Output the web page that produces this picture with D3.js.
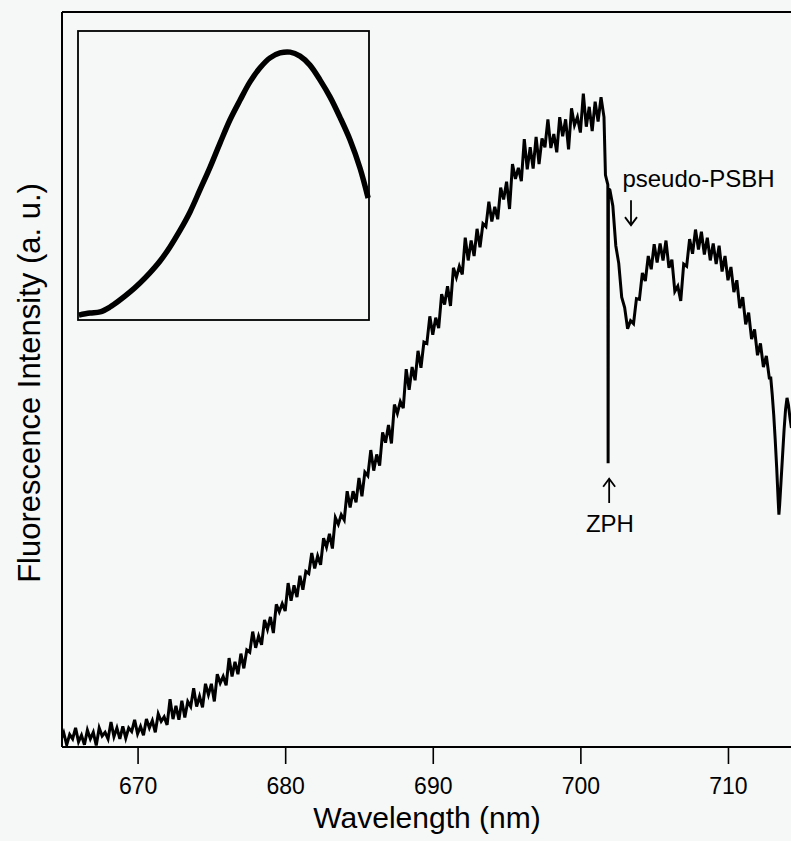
<!DOCTYPE html>
<html>
<head>
<meta charset="utf-8">
<script src="https://cdn.jsdelivr.net/npm/d3@7"></script>
<style>
  html, body { margin: 0; padding: 0; background: #f6f7f7; }
  svg { display: block; font-family: "Liberation Sans", Arial, Helvetica, sans-serif; }
</style>
</head>
<body>
<svg id="chart" width="791" height="841"></svg>
<script>
// ---------- DATA ----------
const xTicks = [670, 680, 690, 700, 710];
const xTickLabels = ["670", "680", "690", "700", "710"];
const xTitle = "Wavelength (nm)";
const yTitle = "Fluorescence Intensity (a. u.)";

const wavelength = [
  664.9,
  665.0,665.2,665.4,665.6,665.8,666.0,666.2,666.4,666.6,666.8,
  667.0,667.2,667.4,667.6,667.8,668.0,668.2,668.4,668.6,668.8,
  669.0,669.2,669.4,669.6,669.8,670.0,670.2,670.4,670.6,670.8,
  671.0,671.2,671.4,671.6,671.8,672.0,672.2,672.4,672.6,672.8,
  673.0,673.2,673.4,673.6,673.8,674.0,674.2,674.4,674.6,674.8,
  675.0,675.2,675.4,675.6,675.8,676.0,676.2,676.4,676.6,676.8,
  677.0,677.2,677.4,677.6,677.8,678.0,678.2,678.4,678.6,678.8,
  679.0,679.2,679.4,679.6,679.8,680.0,680.2,680.4,680.6,680.8,
  681.0,681.2,681.4,681.6,681.8,682.0,682.2,682.4,682.6,682.8,
  683.0,683.2,683.4,683.6,683.8,684.0,684.2,684.4,684.6,684.8,
  685.0,685.2,685.4,685.6,685.8,686.0,686.2,686.4,686.6,686.8,
  687.0,687.2,687.4,687.6,687.8,688.0,688.2,688.4,688.6,688.8,
  689.0,689.2,689.4,689.6,689.8,690.0,690.2,690.4,690.6,690.8,
  691.0,691.2,691.4,691.6,691.8,692.0,692.2,692.4,692.6,692.8,
  693.0,693.2,693.4,693.6,693.8,694.0,694.2,694.4,694.6,694.8,
  695.0,695.2,695.4,695.6,695.8,696.0,696.2,696.4,696.6,696.8,
  697.0,697.2,697.4,697.6,697.8,698.0,698.2,698.4,698.6,698.8,
  699.0,699.2,699.4,699.6,699.8,700.0,700.2,700.4,700.6,700.8,
  701.0,701.2,701.4,701.6,
  701.7,701.8,701.86,701.88,701.9,
  702.0,702.2,702.4,702.6,702.8,703.0,703.2,703.4,703.6,703.8,
  704.0,704.2,704.4,704.6,704.8,705.0,705.2,705.4,705.6,705.8,
  706.0,706.2,706.4,706.6,706.8,707.0,707.2,707.4,707.6,707.8,
  708.0,708.2,708.4,708.6,708.8,709.0,709.2,709.4,709.6,709.8,
  710.0,710.2,710.4,710.6,710.8,711.0,711.2,711.4,711.6,711.8,
  712.0,712.2,712.4,712.6,712.8,712.9,713.0,713.1,713.2,713.3,
  713.4,713.45,713.5,713.6,713.7,713.8,713.9,714.0,714.1,714.2,714.3
];
const intensity = [
  1.3,
  1.9,0.3,1.7,1.1,2.6,0.7,1.6,0.3,2.3,1.1,
  2.0,0.2,2.6,1.5,2.0,1.1,3.4,1.4,2.6,1.1,
  2.8,1.2,2.6,2.1,3.7,1.8,2.8,1.6,3.8,2.6,
  3.6,2.0,4.5,3.5,4.1,3.0,6.5,3.8,5.6,3.7,
  6.3,4.0,6.2,5.5,8.0,5.5,6.9,5.4,8.6,7.1,
  8.6,6.2,9.9,8.7,9.6,8.4,12.1,9.6,11.6,9.9,
  12.7,10.7,13.2,12.9,15.7,13.5,15.1,13.9,17.3,16.0,
  17.7,15.5,19.4,18.4,19.5,18.5,22.3,19.9,22.0,20.4,
  23.3,21.4,23.9,23.6,26.4,24.3,26.0,24.8,28.4,27.2,
  29.0,27.0,31.2,30.3,31.6,30.9,34.8,32.6,34.8,33.3,
  36.6,34.1,37.4,36.9,40.4,37.6,39.8,38.3,42.8,41.4,
  43.8,41.3,46.6,45.4,47.0,46.1,51.4,48.6,51.7,49.9,
  53.9,51.6,55.1,54.9,58.6,56.1,58.4,57.0,61.6,60.2,
  62.7,60.0,65.2,63.9,65.4,64.3,69.3,66.2,68.9,66.8,
  70.5,68.0,71.2,70.8,74.2,71.5,73.5,71.8,76.1,74.5,
  76.9,73.2,79.3,77.3,78.8,77.0,82.7,78.6,81.6,78.7,
  83.0,79.3,82.8,81.6,85.4,81.5,83.4,80.9,85.7,83.1,
  85.4,81.3,86.9,84.6,85.7,83.6,88.9,84.4,87.1,83.8,
  87.8,85.1,88.4,85.7,
  77.8,77.0,76.5,38.6,76.0,
  75.8,73.6,68.2,65.8,61.2,59.8,56.9,58.0,57.6,61.0,
  60.9,64.5,63.4,66.8,65.0,68.4,65.9,68.5,66.2,68.9,
  65.2,66.3,62.0,62.7,60.7,65.7,65.4,69.1,67.1,70.4,
  67.7,70.1,67.0,69.3,66.2,68.5,65.7,68.2,64.7,66.8,
  63.5,65.3,61.9,63.5,59.7,61.2,57.5,59.1,55.5,56.8,
  53.3,54.9,51.7,53.2,50.2,50.2,47.9,45.2,41.8,38.0,
  33.6,31.6,32.9,36.3,39.7,43.1,45.9,47.5,46.5,44.8,43.4
];

// inset spectrum (no axes, arbitrary units)
const insetX = [0.3,4.1,7.6,11.0,14.4,17.9,21.3,24.7,28.2,31.6,35.1,38.5,41.9,45.4,48.8,
  52.2,55.7,59.1,62.5,66.0,69.4,72.9,76.3,79.7,83.2,86.6,90.0,93.5,96.9,99.7];
const insetY = [1.7,2.4,2.8,4.5,6.9,9.7,12.8,16.3,20.4,25.3,31.1,37.4,45.0,52.9,61.2,
  69.2,76.1,82.4,87.2,90.7,92.4,92.7,91.3,88.2,83.0,77.2,70.2,62.3,52.6,42.2];

const annotationLabels = ["pseudo-PSBH", "ZPH"];

// ---------- LAYOUT ----------
const W = 791, H = 841;
const plot = { left: 62, top: 12, right: 791, bottom: 747 };
const insetBox = { left: 78, top: 31, right: 369, bottom: 320 };

const svg = d3.select("#chart");
svg.append("rect").attr("width", W).attr("height", H).attr("fill", "#f6f7f7");

const x = d3.scaleLinear().domain([664.88, 714.27]).range([plot.left, plot.right]);
const y = d3.scaleLinear().domain([0, 100]).range([plot.bottom, plot.top]);

svg.append("defs").append("clipPath").attr("id", "clip")
  .append("rect").attr("x", plot.left).attr("y", plot.top)
  .attr("width", plot.right - plot.left).attr("height", plot.bottom - plot.top);

// main spectrum
const mainData = wavelength.map((w, i) => [w, intensity[i]]);
svg.append("path")
  .datum(mainData)
  .attr("clip-path", "url(#clip)")
  .attr("fill", "none")
  .attr("stroke", "#000")
  .attr("stroke-width", 3)
  .attr("stroke-linejoin", "miter")
  .attr("d", d3.line().x(d => x(d[0])).y(d => y(d[1])));

// frame: left and top lines
svg.append("line").attr("x1", plot.left).attr("x2", plot.left)
  .attr("y1", plot.top).attr("y2", plot.bottom).attr("stroke", "#000").attr("stroke-width", 2);
svg.append("line").attr("x1", plot.left).attr("x2", plot.right)
  .attr("y1", plot.top).attr("y2", plot.top).attr("stroke", "#000").attr("stroke-width", 2);

// bottom axis
const xAxis = d3.axisBottom(x).tickValues(xTicks)
  .tickFormat((d, i) => xTickLabels[i]).tickSize(17).tickSizeOuter(0).tickPadding(14);
const gx = svg.append("g").attr("transform", `translate(0,${plot.bottom})`).call(xAxis);
gx.select(".domain").attr("stroke", "#000").attr("stroke-width", 2)
  .attr("d", `M${plot.left},0H${plot.right}`);
gx.selectAll(".tick line").attr("stroke", "#000").attr("stroke-width", 1.6);
gx.selectAll(".tick text").attr("fill", "#000")
  .style("font-size", "23px").style("font-family", "'Liberation Sans', Arial, sans-serif");

// axis titles
svg.append("text").attr("x", 427).attr("y", 828).attr("text-anchor", "middle")
  .style("font-size", "30px").attr("fill", "#000").text(xTitle);
svg.append("text").attr("transform", "translate(40,383) rotate(-90)")
  .attr("text-anchor", "middle").style("font-size", "31px").attr("fill", "#000").text(yTitle);

// inset
const ix = d3.scaleLinear().domain([0, 100]).range([insetBox.left, insetBox.right]);
const iy = d3.scaleLinear().domain([0, 100]).range([insetBox.bottom, insetBox.top]);
svg.append("rect").attr("x", insetBox.left).attr("y", insetBox.top)
  .attr("width", insetBox.right - insetBox.left).attr("height", insetBox.bottom - insetBox.top)
  .attr("fill", "none").attr("stroke", "#000").attr("stroke-width", 1.8);
svg.append("path")
  .datum(insetX.map((v, i) => [v, insetY[i]]))
  .attr("fill", "none").attr("stroke", "#000").attr("stroke-width", 5.5)
  .attr("d", d3.line().curve(d3.curveCatmullRom).x(d => ix(d[0])).y(d => iy(d[1])));

// annotations
function arrow(wl, v0, v1) {
  const ax = x(wl), y0 = y(v0), y1 = y(v1);
  const dir = y1 > y0 ? -1 : 1;
  svg.append("line").attr("x1", ax).attr("x2", ax).attr("y1", y0).attr("y2", y1)
    .attr("stroke", "#000").attr("stroke-width", 1.8);
  svg.append("path")
    .attr("d", `M${ax - 6},${y1 + dir * 8}L${ax},${y1}L${ax + 6},${y1 + dir * 8}`)
    .attr("fill", "none").attr("stroke", "#000").attr("stroke-width", 1.8);
}
svg.append("text").attr("x", x(708.0)).attr("y", y(76.2)).attr("text-anchor", "middle")
  .style("font-size", "24px").attr("fill", "#000").text(annotationLabels[0]);
arrow(703.43, 74.4, 71.0);
svg.append("text").attr("x", x(702.0)).attr("y", y(29.3)).attr("text-anchor", "middle")
  .style("font-size", "24px").attr("fill", "#000").text(annotationLabels[1]);
arrow(701.95, 33.2, 36.5);
</script>
</body>
</html>
